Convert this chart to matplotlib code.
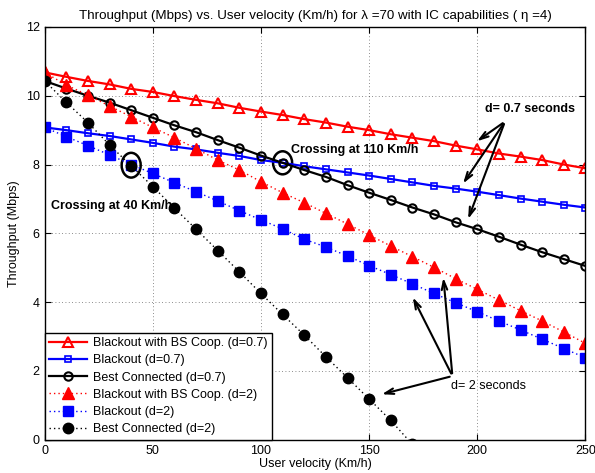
import numpy as np
import matplotlib
matplotlib.use('Agg')
import matplotlib.pyplot as plt
from matplotlib.patches import Ellipse

plt.rcParams['font.family'] = ['Liberation Sans', 'DejaVu Sans']
plt.rcParams['font.size'] = 9

# velocities (Km/h)
v = np.arange(0, 260, 10)
v_bc2 = np.arange(0, 180, 10)

# throughput (Mbps), d = 0.7 s
coop_07 = [10.68, 10.55, 10.43, 10.33, 10.20, 10.11, 9.99, 9.88, 9.78, 9.65, 9.54, 9.44, 9.32,
           9.22, 9.10, 9.00, 8.88, 8.78, 8.68, 8.55, 8.44, 8.32, 8.23, 8.13, 8.00, 7.89]
black_07 = [9.08, 9.00, 8.91, 8.83, 8.73, 8.63, 8.52, 8.44, 8.34, 8.25, 8.13, 8.05, 7.95,
            7.86, 7.77, 7.68, 7.58, 7.48, 7.38, 7.30, 7.21, 7.11, 7.01, 6.92, 6.83, 6.75]
best_07 = [10.43, 10.21, 10.00, 9.80, 9.58, 9.36, 9.14, 8.94, 8.71, 8.49, 8.26, 8.05, 7.84,
           7.64, 7.40, 7.18, 6.97, 6.75, 6.55, 6.32, 6.12, 5.90, 5.67, 5.45, 5.25, 5.05]
# d = 2 s
coop_2 = [10.68, 10.31, 10.02, 9.70, 9.39, 9.08, 8.78, 8.46, 8.13, 7.84, 7.50, 7.18, 6.89,
          6.58, 6.27, 5.95, 5.63, 5.32, 5.01, 4.68, 4.37, 4.06, 3.75, 3.45, 3.13, 2.80]
black_2 = [9.08, 8.81, 8.55, 8.28, 8.00, 7.74, 7.47, 7.21, 6.94, 6.66, 6.39, 6.13, 5.83,
           5.60, 5.34, 5.06, 4.80, 4.53, 4.25, 3.98, 3.72, 3.45, 3.19, 2.92, 2.65, 2.38]
best_2 = [10.43, 9.81, 9.22, 8.57, 7.96, 7.36, 6.73, 6.12, 5.50, 4.88, 4.25, 3.64, 3.04,
          2.41, 1.80, 1.18, 0.56, -0.14]

dot = (0, (1, 2.2))
fig = plt.figure(figsize=(5.95, 4.73), dpi=100)
ax = fig.add_axes([0.075, 0.0705, 0.909, 0.8725])

ax.plot(v, coop_07, '-', color='r', lw=1.6, marker='^', ms=7.5, mfc='none', mew=1.5,
        label='Blackout with BS Coop. (d=0.7)')
ax.plot(v, black_07, '-', color='b', lw=1.6, marker='s', ms=5, mfc='none', mew=1.2,
        label='Blackout (d=0.7)')
ax.plot(v, best_07, '-', color='k', lw=1.6, marker='o', ms=6, mfc='none', mew=1.5,
        label='Best Connected (d=0.7)')
ax.plot(v, coop_2, color='r', ls=dot, lw=1, marker='^', ms=8, mfc='r', mec='r',
        label='Blackout with BS Coop. (d=2)')
ax.plot(v, black_2, color='b', ls=dot, lw=1, marker='s', ms=6.5, mfc='b', mec='b',
        label='Blackout (d=2)')
ax.plot(v_bc2, best_2, color='k', ls=dot, lw=1, marker='o', ms=7.5, mfc='k', mec='k',
        label='Best Connected (d=2)')

ax.set_xlim(0, 250)
ax.set_ylim(0, 12)
ax.set_xticks(range(0, 251, 50))
ax.set_yticks(range(0, 13, 2))
ax.grid(True, ls=(0, (1, 3)), color='k', lw=0.6, alpha=0.6)
ax.tick_params(direction='in', top=True, right=True, length=4)
for s in ax.spines.values():
    s.set_linewidth(1)

ax.set_title(u'Throughput (Mbps) vs. User velocity (Km/h) for \u03bb =70 with IC capabilities ( \u03b7 =4)',
             fontsize=9.6, pad=6)
ax.set_xlabel('User velocity (Km/h)', labelpad=1)
ax.set_ylabel('Throughput (Mbps)', labelpad=4)

# crossings
ax.add_patch(Ellipse((110, 8.05), 8.8, 0.67, fill=False, ec='k', lw=1.8))
ax.add_patch(Ellipse((40, 7.98), 8.8, 0.72, fill=False, ec='k', lw=1.8))
ax.text(114, 8.42, 'Crossing at 110 Km/h', fontweight='bold', va='center')
ax.text(2.8, 6.78, 'Crossing at 40 Km/h', fontweight='bold', va='center')

# annotations
ax.text(203.5, 9.61, 'd= 0.7 seconds', fontweight='bold', va='center')
for xy in [(198.8, 8.63), (192.7, 7.38), (195.3, 6.34)]:
    ax.annotate('', xy=xy, xytext=(212.8, 9.25),
                arrowprops=dict(arrowstyle='->,head_length=0.7,head_width=0.22', color='k', lw=1.5))
ax.text(188, 1.57, 'd= 2 seconds', va='center')
for xy in [(169.6, 4.21), (184.2, 4.79), (154.6, 1.30)]:
    ax.annotate('', xy=xy, xytext=(188.5, 1.85),
                arrowprops=dict(arrowstyle='->,head_length=0.7,head_width=0.22', color='k', lw=1.5))

leg = ax.legend(loc='lower left', borderaxespad=0, fancybox=False, handlelength=3,
                labelspacing=0.42, borderpad=0.35, handletextpad=0.5, fontsize=9)
leg.get_frame().set_edgecolor('k')
leg.get_frame().set_linewidth(1)
leg.get_frame().set_alpha(1)

fig.savefig('out.png', dpi=100)
